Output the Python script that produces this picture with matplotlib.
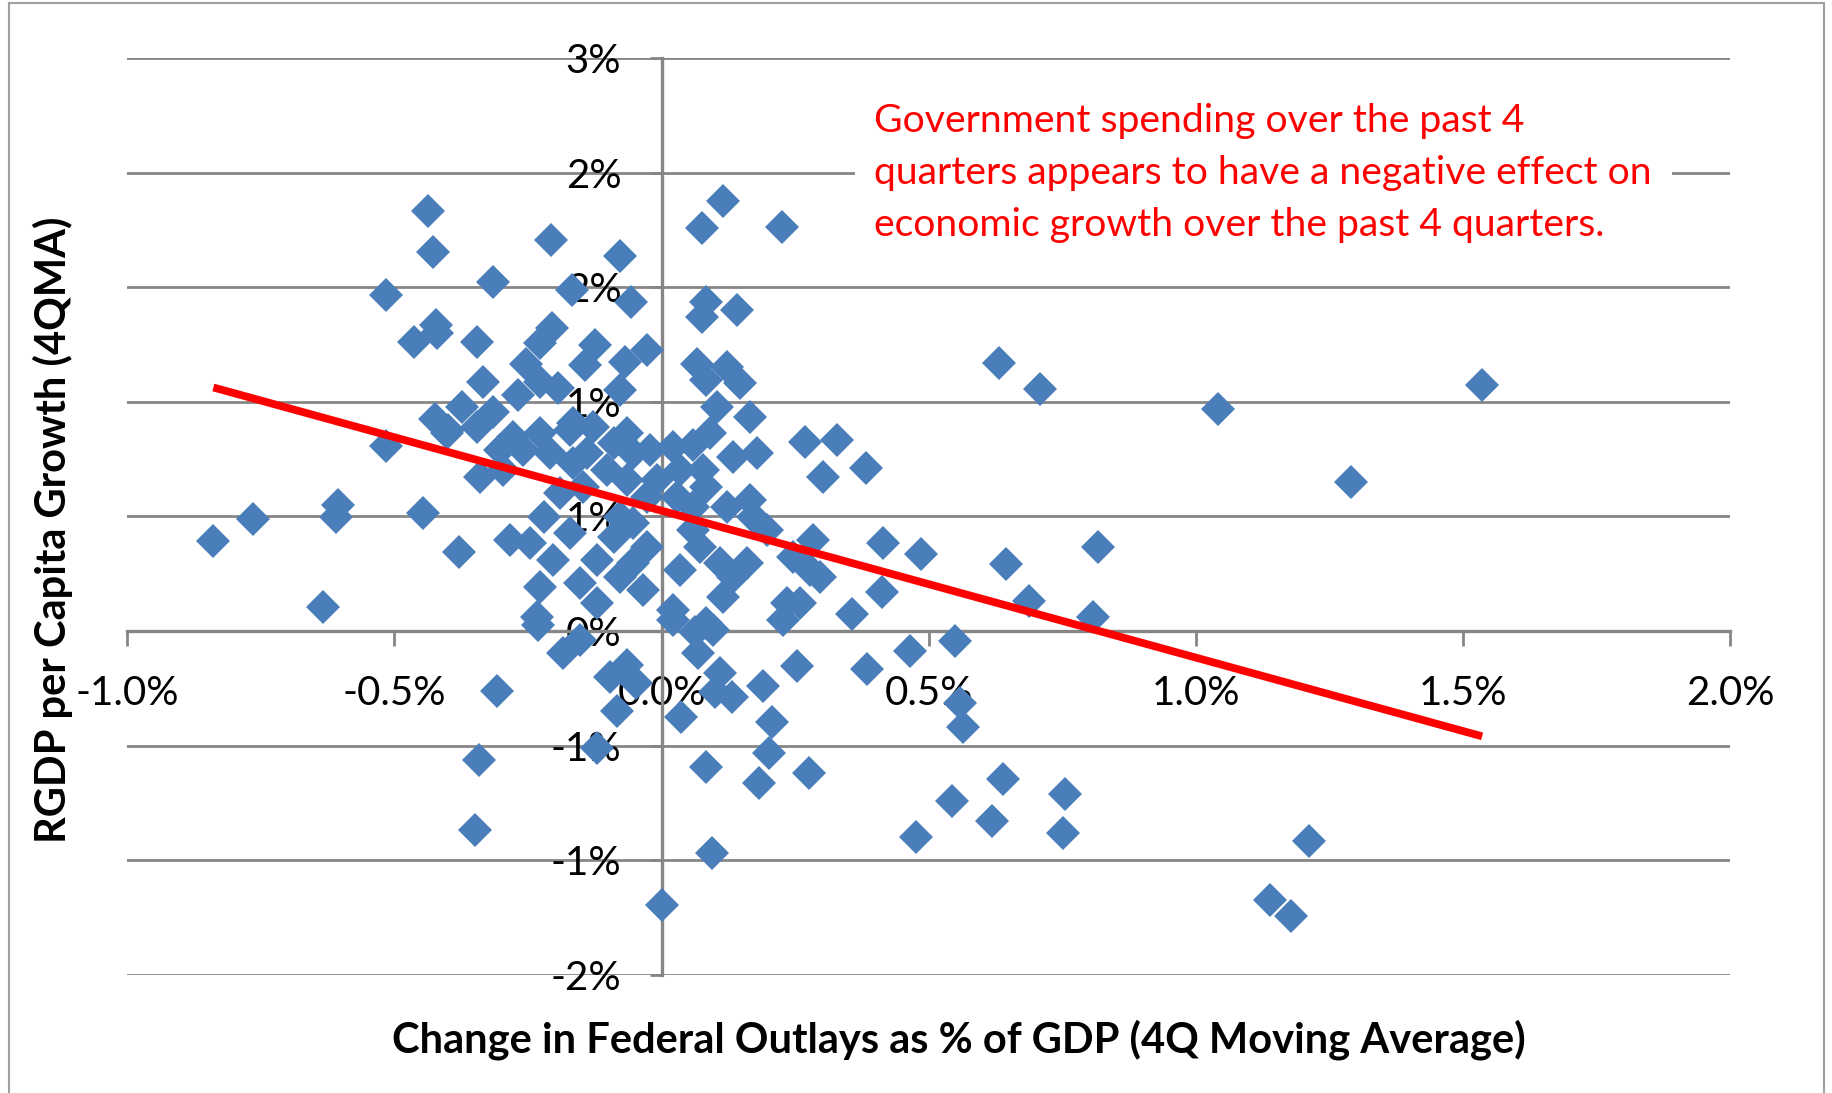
import numpy as np
import matplotlib
matplotlib.use('Agg')
import matplotlib.pyplot as plt
from matplotlib.patches import Rectangle

# 1. data (percent units)
x_change = [-0.839, -0.764, -0.633, -0.610, -0.605, -0.515, -0.515, -0.463, -0.447, -0.438,
            -0.428, -0.424, -0.422, -0.421, -0.402, -0.399, -0.380, -0.374, -0.350, -0.346,
            -0.346, -0.341, -0.340, -0.334, -0.316, -0.315, -0.309, -0.302, -0.296, -0.284,
            -0.278, -0.268, -0.259, -0.253, -0.246, -0.234, -0.231, -0.228, -0.228, -0.228,
            -0.228, -0.221, -0.209, -0.207, -0.206, -0.203, -0.193, -0.190, -0.185, -0.171,
            -0.171, -0.168, -0.165, -0.165, -0.153, -0.153, -0.147, -0.143, -0.140, -0.128,
            -0.125, -0.121, -0.121, -0.121, -0.103, -0.097, -0.090, -0.090, -0.084, -0.078,
            -0.078, -0.078, -0.078, -0.069, -0.065, -0.065, -0.064, -0.058, -0.053, -0.053,
            -0.053, -0.047, -0.034, -0.028, -0.028, -0.028, -0.022, -0.009, 0.000, 0.022,
            0.022, 0.022, 0.028, 0.034, 0.034, 0.036, 0.059, 0.059, 0.059, 0.063,
            0.066, 0.069, 0.072, 0.075, 0.076, 0.078, 0.083, 0.084, 0.084, 0.084,
            0.084, 0.091, 0.095, 0.097, 0.100, 0.103, 0.109, 0.109, 0.115, 0.115,
            0.122, 0.122, 0.131, 0.134, 0.134, 0.141, 0.147, 0.159, 0.165, 0.165,
            0.172, 0.178, 0.183, 0.189, 0.197, 0.201, 0.206, 0.225, 0.228, 0.234,
            0.246, 0.253, 0.259, 0.268, 0.276, 0.278, 0.284, 0.296, 0.303, 0.328,
            0.357, 0.383, 0.384, 0.412, 0.414, 0.465, 0.477, 0.485, 0.543, 0.549,
            0.558, 0.565, 0.619, 0.632, 0.640, 0.645, 0.688, 0.709, 0.752, 0.756,
            0.808, 0.817, 1.042, 1.138, 1.179, 1.212, 1.291, 1.536]
y_growth = [0.473, 0.585, 0.124, 0.598, 0.660, 0.970, 1.759, 1.515, 0.619, 2.200,
            1.986, 1.108, 1.602, 1.559, 1.035, 1.052, 0.415, 1.174, -1.042, 1.515,
            1.070, -0.675, 0.808, 1.305, 1.826, 1.148, -0.312, 0.948, 0.843, 0.476,
            1.017, 1.235, 0.948, 1.400, 0.459, 0.075, 0.031, 1.506, 1.305, 1.035,
            0.232, 0.598, 0.930, 2.047, 1.585, 0.372, 1.270, 0.721, -0.117, 1.052,
            0.511, 1.785, 0.878, 1.087, 0.250, -0.047, 0.756, 1.393, 0.930, 1.070,
            1.497, 0.372, 0.145, -0.614, 0.843, -0.239, 0.983, 0.494, -0.420, 1.963,
            1.260, 0.598, 0.284, 1.410, 1.035, 0.790, -0.178, 1.724, 0.930, 0.564,
            0.354, -0.274, 0.215, 1.471, 0.703, 0.441, 0.948, 0.790, -1.435, 0.965,
            0.110, 0.058, 0.703, 0.843, 0.319, -0.452, 0.974, 0.651, 0.529, -0.003,
            1.400, -0.117, 0.441, 1.646, 2.108, 0.843, -0.710, 1.724, 1.314, 0.756,
            0.040, 1.035, -1.164, 0.005, -0.318, 1.174, 0.354, -0.222, 2.253, 0.180,
            1.384, 0.651, -0.344, 0.913, 0.284, 1.681, 1.297, 0.354, 1.122, 0.686,
            0.598, 0.930, -0.797, -0.290, 0.529, -0.637, -0.475, 2.117, 0.058, 0.145,
            0.389, -0.183, 0.145, 0.991, -0.742, 0.319, 0.476, 0.284, 0.808, 1.000,
            0.087, 0.855, -0.200, 0.206, 0.462, -0.103, -1.077, 0.401, -0.890, -0.052,
            -0.379, -0.501, -0.997, 1.405, -0.776, 0.351, 0.157, 1.265, -1.059, -0.853,
            0.075, 0.441, 1.165, -1.409, -1.494, -1.098, 0.780, 1.287]

# linear trend
trend_slope = -0.769
trend_intercept = 0.63

x_ticks = [-1.0, -0.5, 0.0, 0.5, 1.0, 1.5, 2.0]
x_tick_labels = ['-1.0%', '-0.5%', '0.0%', '0.5%', '1.0%', '1.5%', '2.0%']
y_ticks = [-1.8, -1.2, -0.6, 0.0, 0.6, 1.2, 1.8, 2.4, 3.0]
y_tick_labels = ['-2%', '-1%', '-1%', '0%', '1%', '1%', '2%', '2%', '3%']

x_title = 'Change in Federal Outlays as % of GDP (4Q Moving Average)'
y_title = 'RGDP per Capita Growth (4QMA)'
note = ('Government spending over the past 4\n'
        'quarters appears to have a negative effect on\n'
        'economic growth over the past 4 quarters.')

# 2. chart
plt.rcParams['font.family'] = ['Lato', 'DejaVu Sans']
grid_col = '#868686'

fig = plt.figure(figsize=(18.33, 10.93), dpi=100)
ax = fig.add_axes([0.0695, 0.1081, 0.8743, 0.8388])
ax.set_xlim(-1.0, 2.0)
ax.set_ylim(-1.8, 3.0)

ax.plot(x_change, y_growth, linestyle='none', marker='D', ms=17.6,
        mfc='#4a7ebb', mec='none', mew=0, zorder=3)

xs = np.array([min(x_change), max(x_change)])
ax.plot(xs, trend_intercept + trend_slope * xs, color='#ff0000', lw=5.6,
        solid_capstyle='butt', zorder=4)

ax.set_xticks(x_ticks)
ax.set_xticklabels(x_tick_labels)
ax.set_yticks(y_ticks)
ax.set_yticklabels(y_tick_labels)
ax.yaxis.grid(True, color=grid_col, lw=2.0)
ax.set_axisbelow(True)

for side in ['top', 'right']:
    ax.spines[side].set_visible(False)
for side in ['left', 'bottom']:
    ax.spines[side].set_position('zero')
    ax.spines[side].set_color(grid_col)
    ax.spines[side].set_linewidth(2.4)

ax.tick_params(axis='x', direction='out', length=11, width=2.0, color=grid_col,
               labelsize=29, pad=21)
ax.tick_params(axis='y', direction='out', length=9, width=2.0, color=grid_col,
               labelsize=29, pad=20)

fig.text(52.6 / 1833, 1 - 530 / 1093, y_title, rotation=90, ha='center', va='center',
         fontsize=30, fontweight='bold')
fig.text(958.6 / 1833, 1 - 1040 / 1093, x_title, ha='center', va='center',
         fontsize=30, fontweight='bold')

fig.text(874.4 / 1833, 1 - 103 / 1093, note, ha='left', va='top', color='#ff0000',
         fontsize=28.2, linespacing=1.56, zorder=6,
         bbox=dict(facecolor='white', edgecolor='none', pad=14))

fig.patches.append(Rectangle((0.005, -0.01), 0.99, 1.007, transform=fig.transFigure,
                             fill=False, ec='#a0a0a0', lw=1.5))

fig.savefig('out.png', dpi=100)
